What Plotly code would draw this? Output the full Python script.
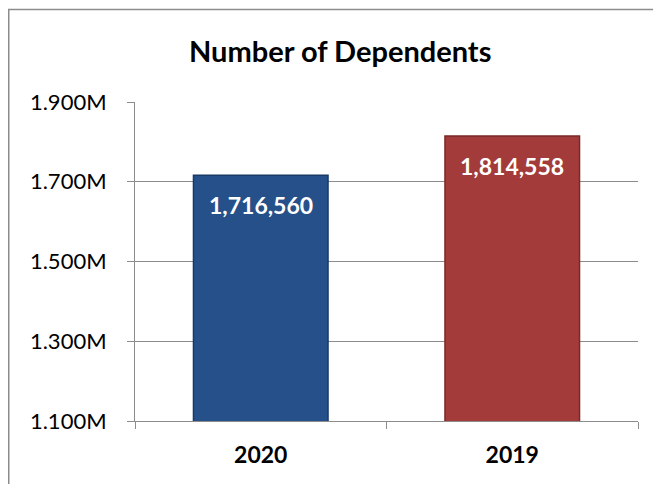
import plotly.graph_objects as go

categories = ["2020", "2019"]
values = [1716560, 1814558]
value_labels = ["1,716,560", "1,814,558"]
bar_colors = ["#25508a", "#a33b3a"]
bar_edges = ["#1a3a66", "#7a2828"]
y_tickvals = [1100000, 1300000, 1500000, 1700000, 1900000]
y_ticktext = ["1.100M", "1.300M", "1.500M", "1.700M", "1.900M"]
title_text = "Number of Dependents"

# page offset of 8px (body margin): figure spans page x 8..661, y 8..484
OFF = 8
W, H = 661 - OFF, 484 - OFF
L, R, T, B = 135 - OFF, 23, 102 - OFF, 63
pw, ph = W - L - R, H - T - B

def px_x(x):
    return (x - OFF - L) / pw

def px_y(y):
    return (H - B - (y - OFF)) / ph

fig = go.Figure()
fig.add_trace(go.Bar(
    x=categories, y=values,
    marker=dict(color=bar_colors, line=dict(color=bar_edges, width=1.5)),
    width=0.535,
    hoverinfo="x+y",
))

# value labels near the top of each bar (x given as category index)
for i, (v, t) in enumerate(zip(values, value_labels)):
    fig.add_annotation(
        x=i, y=v, xref="x", yref="y", text=t, showarrow=False,
        yshift=-30, yanchor="middle",
        font=dict(family="Lato", size=23, color="white", weight="bold"),
    )

fig.update_layout(
    width=W, height=H,
    margin=dict(l=L, r=R, t=T, b=B, autoexpand=False),
    paper_bgcolor="white", plot_bgcolor="white",
    showlegend=False,
    font=dict(family="Lato", color="black"),
)
fig.update_yaxes(
    range=[1100000, 1900000],
    tickvals=y_tickvals, ticktext=y_ticktext,
    showgrid=True, gridcolor="#8c8c8c", gridwidth=1,
    showline=True, linecolor="#8c8c8c", linewidth=1,
    ticks="outside", ticklen=7, tickcolor="#8c8c8c",
    tickfont=dict(family="Lato", size=22, color="black"),
    ticklabelstandoff=16,
    zeroline=False,
    automargin=False,
)
fig.update_xaxes(
    type="category",
    categoryorder="array", categoryarray=categories,
    range=[-0.5, 1.5],
    showline=True, linecolor="#8c8c8c", linewidth=1,
    ticks="outside", ticklen=7, tickcolor="#8c8c8c",
    tickson="boundaries",
    tickangle=0,
    tickfont=dict(family="Lato", size=23, color="black", weight="bold"),
    ticklabelstandoff=13,
    automargin=False,
)

fig.add_annotation(
    x=px_x(340), y=px_y(51), xref="paper", yref="paper",
    text=title_text, showarrow=False,
    font=dict(family="Lato", size=29, color="black", weight="bold"),
    xanchor="center", yanchor="middle",
)

# outer frame (left and top edges visible)
fig.add_shape(
    type="line", xref="paper", yref="paper",
    x0=px_x(8.75), x1=px_x(8.75), y0=px_y(9.5), y1=px_y(490),
    line=dict(color="#8c8c8c", width=1.5),
)
fig.add_shape(
    type="line", xref="paper", yref="paper",
    x0=px_x(8), x1=px_x(670), y0=px_y(9.5), y1=px_y(9.5),
    line=dict(color="#8c8c8c", width=1.5),
)

fig.write_html("out.html")
